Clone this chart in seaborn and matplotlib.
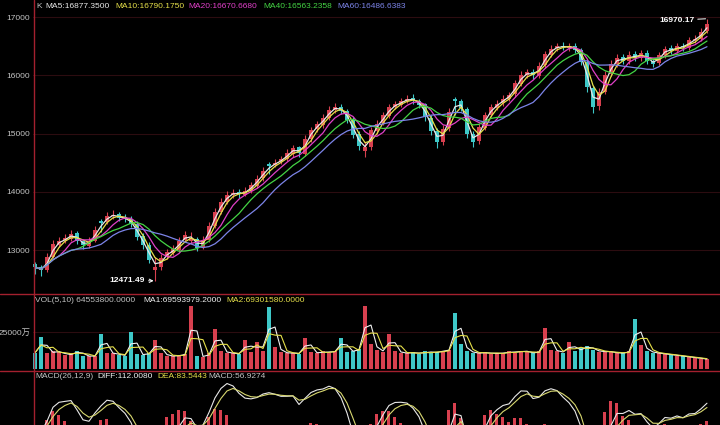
#!/usr/bin/env python3
import matplotlib
matplotlib.use("Agg")
import matplotlib.pyplot as plt
import numpy as np
import pandas as pd
import seaborn as sns

# each drawn candle stands for several sessions of the original chart
open_ = [12760, 12700, 12660, 12880, 13090, 13170, 13190, 13290, 13150, 13070,
         13160, 13500, 13480, 13580, 13610, 13560, 13530, 13450, 13240, 13090,
         12650, 12710, 12880, 12950, 13000, 13170, 13150, 13190, 13050, 13170,
         13410, 13650, 13830, 13940, 13990, 13950, 14020, 14100, 14230, 14470,
         14460, 14520, 14570, 14650, 14760, 14650, 14900, 15070, 15150, 15270,
         15400, 15460, 15380, 15240, 14990, 14700, 14770, 15050, 15180, 15300,
         15460, 15490, 15560, 15610, 15560, 15500, 15270, 15050, 14850, 15090,
         15600, 15560, 15420, 15000, 14870, 15100, 15320, 15440, 15520, 15590,
         15670, 15850, 16010, 16060, 15990, 16170, 16350, 16460, 16510, 16470,
         16510, 16430, 16220, 15780, 15470, 15710, 16020, 16190, 16310, 16240,
         16360, 16290, 16390, 16240, 16210, 16340, 16460, 16410, 16510, 16470,
         16610, 16630, 16760]
close = [12700, 12650, 12880, 13100, 13150, 13200, 13280, 13160, 13080, 13150,
         13350, 13470, 13590, 13600, 13550, 13540, 13440, 13230, 13080, 12830,
         12700, 12870, 12960, 13010, 13160, 13250, 13200, 13040, 13180, 13420,
         13660, 13820, 13950, 13980, 13960, 14010, 14110, 14220, 14360, 14450,
         14500, 14560, 14660, 14750, 14660, 14910, 15060, 15160, 15260, 15410,
         15450, 15390, 15230, 14980, 14790, 14760, 15060, 15170, 15310, 15450,
         15500, 15550, 15600, 15570, 15490, 15280, 15040, 14860, 15080, 15370,
         15550, 15430, 14990, 14860, 15110, 15310, 15450, 15510, 15600, 15660,
         15860, 16000, 16050, 16000, 16160, 16360, 16450, 16500, 16480, 16500,
         16440, 16230, 15790, 15460, 15720, 16010, 16200, 16300, 16250, 16350,
         16300, 16380, 16250, 16200, 16350, 16450, 16420, 16500, 16480, 16600,
         16620, 16750, 16880]
high = [12800, 12740, 12950, 13180, 13230, 13270, 13350, 13320, 13180, 13220,
        13420, 13540, 13650, 13680, 13660, 13620, 13580, 13490, 13290, 13130,
        12880, 12930, 13010, 13080, 13230, 13330, 13310, 13230, 13240, 13480,
        13720, 13890, 14010, 14050, 14040, 14080, 14170, 14280, 14420, 14510,
        14570, 14620, 14730, 14810, 14790, 14980, 15120, 15220, 15330, 15480,
        15520, 15510, 15420, 15290, 15040, 14850, 15120, 15230, 15370, 15510,
        15560, 15610, 15660, 15670, 15600, 15530, 15310, 15090, 15140, 15430,
        15620, 15600, 15460, 15050, 15170, 15370, 15510, 15570, 15660, 15720,
        15920, 16070, 16110, 16100, 16220, 16420, 16520, 16560, 16570, 16550,
        16560, 16470, 16260, 15820, 15780, 16070, 16260, 16360, 16370, 16410,
        16420, 16440, 16430, 16280, 16400, 16510, 16520, 16560, 16560, 16660,
        16690, 16810, 16970.17]
low = [12580, 12560, 12620, 12860, 13050, 13120, 13160, 13110, 13020, 13040,
       13130, 13310, 13450, 13540, 13500, 13480, 13400, 13180, 13020, 12780,
       12471.49, 12660, 12840, 12910, 12970, 13130, 13100, 12980, 13010, 13140,
       13380, 13610, 13790, 13900, 13900, 13920, 13980, 14060, 14190, 14310,
       14420, 14480, 14530, 14600, 14600, 14620, 14860, 15020, 15100, 15230,
       15360, 15340, 15180, 14920, 14720, 14600, 14720, 15000, 15140, 15260,
       15420, 15450, 15520, 15510, 15440, 15220, 14980, 14750, 14800, 15040,
       15320, 15380, 14930, 14760, 14820, 15060, 15280, 15400, 15480, 15550,
       15630, 15820, 15960, 15940, 15950, 16130, 16310, 16420, 16430, 16420,
       16390, 16180, 15720, 15350, 15410, 15680, 15980, 16150, 16190, 16200,
       16250, 16240, 16200, 16140, 16170, 16300, 16370, 16380, 16420, 16440,
       16560, 16590, 16720]
# volume in units of 10k shares (万)
volume = [11000, 21500, 10500, 12000, 11500, 9500, 10000, 12500, 9000, 8500,
          9000, 23600, 11000, 10500, 9500, 9000, 25000, 10000, 9500, 11000,
          19400, 10500, 9000, 8500, 9500, 10000, 42400, 9000, 8000, 11000,
          27000, 12000, 11000, 10500, 10000, 19400, 11500, 18000, 12000, 41700,
          15000, 11500, 10500, 11000, 10000, 21000, 11500, 10500, 12000, 11000,
          12500, 21000, 11500, 12500, 13500, 42400, 17000, 13000, 11500, 23600,
          12000, 11000, 10500, 11500, 10000, 12000, 11000, 11500, 12500, 13000,
          38000, 17000, 12000, 11000, 10500, 11500, 10000, 11000, 10500, 12000,
          11000, 12500, 11500, 10500, 12000, 28000, 13000, 12000, 11000, 18000,
          12000, 14000, 15500, 13000, 11500, 12000, 11500, 10500, 11000, 12000,
          34000, 16000, 12000, 11000, 10500, 10000, 9500, 9000, 8500, 8000,
          7500, 7000, 6455]

ma_windows = [2, 3, 5, 8, 12]
ma_colors = ["#e8e8e8", "#e6e04a", "#e040c8", "#44d444", "#7c84e8"]
ma_labels = ["MA5:16877.3500", "MA10:16790.1750", "MA20:16670.6680",
             "MA40:16563.2358", "MA60:16486.6383"]

UP = "#d8404f"
DOWN = "#3ec8c8"
GRID = "#2c0c10"
BORDER = "#a3202e"
TXT = "#c4c4c4"

sns.set_style("dark", {"axes.facecolor": "black", "figure.facecolor": "black"})
plt.rcParams["font.family"] = ["Liberation Sans", "Noto Sans CJK SC", "DejaVu Sans"]

df = pd.DataFrame({"open": open_, "close": close, "high": high, "low": low, "vol": volume})
df["i"] = np.arange(len(df))
up = df["close"] >= df["open"]
colors = np.where(up, UP, DOWN)

W, H = 720, 425
fig = plt.figure(figsize=(7.2, 4.25), dpi=100)
fig.patch.set_facecolor("black")


def px_axes(x0, y0, x1, y1):
    return fig.add_axes([x0 / W, 1 - y1 / H, (x1 - x0) / W, (y1 - y0) / H])


ax = px_axes(33, 0, 720, 293)
axv = px_axes(33, 294, 720, 369)
axm = px_axes(33, 372, 720, 425)

xlim = (-1 / 3, 114.17)
for a in (ax, axv, axm):
    a.set_facecolor("black")
    a.set_xlim(*xlim)
    a.set_xticks([])
    for s in a.spines.values():
        s.set_visible(False)
    a.tick_params(axis="y", length=0, colors=TXT, labelsize=6, pad=2)
    a.grid(False)

# --- price panel
ax.vlines(df["i"], df["low"], df["high"], colors=colors, lw=0.8)
ax.bar(df["i"], (df["close"] - df["open"]).abs().clip(lower=8),
       bottom=np.minimum(df["open"], df["close"]), width=0.6, color=colors, lw=0)
for w, c in zip(ma_windows, ma_colors):
    sns.lineplot(x=df["i"], y=df["close"].rolling(w, min_periods=1).mean(),
                 ax=ax, color=c, lw=0.9, legend=False)
ax.set_ylim(12262, 17292)
ax.set_yticks([13000, 14000, 15000, 16000, 17000])
for t in ax.get_yticks():
    ax.axhline(t, color=GRID, lw=0.8, zorder=0)
ax.set_xlabel("")
ax.set_ylabel("")

lo = df["low"].idxmin()
hi = df["high"].idxmax()
ax.annotate(f"{df['low'][lo]:.2f}", xy=(lo, df["low"][lo]), xytext=(-7, 0),
            textcoords="offset points", ha="right", va="center", color="white",
            fontsize=6, fontweight="bold",
            arrowprops=dict(arrowstyle="->", color="white", lw=0.7, shrinkA=0, shrinkB=1))
ax.annotate(f"{df['high'][hi]:.2f}", xy=(hi, df["high"][hi]), xytext=(-9, -1),
            textcoords="offset points", ha="right", va="center", color="white",
            fontsize=6, fontweight="bold",
            arrowprops=dict(arrowstyle="-", color="white", lw=0.7, shrinkA=0, shrinkB=1))

# --- volume panel
axv.bar(df["i"], df["vol"], width=0.7, color=colors, lw=0)
sns.lineplot(x=df["i"], y=df["vol"].rolling(2, min_periods=1).mean(), ax=axv,
             color="#f0f0f0", lw=0.8, legend=False)
sns.lineplot(x=df["i"], y=df["vol"].rolling(3, min_periods=1).mean(), ax=axv,
             color="#e6e04a", lw=0.8, legend=False)
axv.set_ylim(0, 50700)
axv.set_yticks([25000])
axv.set_yticklabels(["25000万"])
axv.axhline(25000, color=GRID, lw=0.8, zorder=0)
axv.set_xlabel("")
axv.set_ylabel("")

# --- MACD panel
fast = df["close"].ewm(span=3, adjust=False).mean()
slow = df["close"].ewm(span=7, adjust=False).mean()
dif = fast - slow
dea = dif.ewm(span=3, adjust=False).mean()
hist = 2 * (dif - dea)
axm.bar(df["i"], hist, width=0.5, color=np.where(hist >= 0, UP, DOWN), lw=0)
sns.lineplot(x=df["i"], y=dif, ax=axm, color="#e8e8e8", lw=0.8, legend=False)
sns.lineplot(x=df["i"], y=dea, ax=axm, color="#d8d870", lw=0.8, legend=False)
m = dif.max()
axm.set_ylim(0.1 * m, 1.25 * m)
axm.set_yticks([])
axm.set_xlabel("")
axm.set_ylabel("")

# --- borders
fig.add_artist(plt.Line2D([33.5 / W] * 2, [0, 1], color=BORDER, lw=1))
for y in (293.5, 370.5):
    fig.add_artist(plt.Line2D([0, 1], [1 - y / H] * 2, color=BORDER, lw=1))


def hdr(x, y, s, c):
    fig.text(x / W, 1 - y / H, s, color=c, fontsize=6, ha="left", va="center")


hdr(36, 7, "K", TXT)
for x, s, c in zip([45, 115, 188, 263, 337], ma_labels, ma_colors):
    hdr(x, 7, s, c)
hdr(35, 301, "VOL(5,10) 64553800.0000", TXT)
hdr(143, 301, "MA1:69593979.2000", "#f0f0f0")
hdr(226, 301, "MA2:69301580.0000", "#e6e04a")
hdr(35, 377, "MACD(26,12,9)", TXT)
hdr(97, 377, "DIFF:112.0080", "#f0f0f0")
hdr(157, 377, "DEA:83.5443", "#e6e04a")
hdr(208, 377, "MACD:56.9274", TXT)

fig.savefig("out.png", dpi=100, facecolor="black")
